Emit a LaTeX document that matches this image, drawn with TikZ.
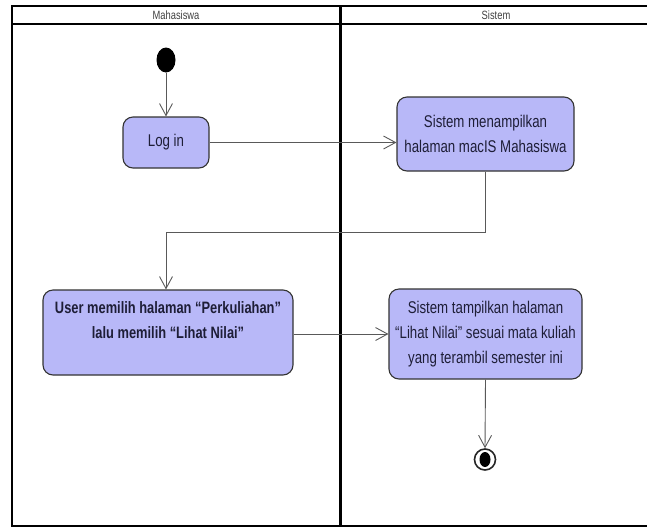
\documentclass[tikz,border=0pt]{standalone}
\usepackage{fontspec}
\setmainfont[FakeStretch=0.78]{Liberation Sans}
\usetikzlibrary{arrows.meta,shapes.geometric}
\definecolor{actfill}{RGB}{184,184,248}
\definecolor{acttext}{RGB}{30,30,55}

\begin{document}
\begin{tikzpicture}[x=1pt,y=-1pt,
		act/.style={draw=black!80, fill=actfill, rounded corners=10pt, line width=1.1pt, align=center, inner sep=0pt, text=acttext, font=\fontsize{17}{25}\selectfont},
		flow/.style={draw=black!65, line width=0.9pt, -{Straight Barb[length=12pt,width=13pt]}},
		lane/.style={line width=2.2pt}]
			%%%%% START %%%%%
			\useasboundingbox (0,0) rectangle (647,531);
			
			\draw[line width=1.3pt] (12,6) -- (647,6);
			\draw[lane] (12,5) -- (12,527);
			\draw[line width=2.8pt] (11,24) -- (647,24);
			\draw[lane] (340.5,5) -- (340.5,527);
			\draw[lane] (11,526) -- (647,526);
			
			\node[text=black!75, font=\fontsize{12}{14}\selectfont] (lanemhs) at (176,15) {Mahasiswa};
			\node[text=black!75, font=\fontsize{12}{14}\selectfont] (lanesis) at (496,15) {Sistem};
			
			\node[ellipse, fill=black, inner sep=0pt, minimum width=19pt, minimum height=25pt] (start) at (166,60) {};
			
			\node[act, minimum width=86pt, minimum height=51pt] (login) at (166,142.5) {Log in};
			\node[act, minimum width=177pt, minimum height=74pt] (halaman) at (485.5,134) {Sistem menampilkan\\halaman macIS Mahasiswa};
			\node[act, minimum width=250pt, minimum height=85pt, font=\fontsize{16.5}{25}\selectfont\bfseries] (pilih) at (168,332.5) {User memilih halaman “Perkuliahan”\\lalu memilih “Lihat Nilai”\\\mbox{}};
			\node[act, minimum width=193pt, minimum height=90pt] (nilai) at (485.5,334) {Sistem tampilkan halaman\\“Lihat Nilai” sesuai mata kuliah\\yang terambil semester ini};
			
			\node[circle, draw=black!85, line width=1.6pt, inner sep=0pt, minimum size=21pt] (final) at (485,459.5) {};
			\node[ellipse, fill=black, inner sep=0pt, minimum width=11pt, minimum height=15pt] (finaldot) at (final.center) {};
			
			\coordinate (turn) at (485.5,232);
			
			\draw[flow] (start) -- (login);
			\draw[flow] (login.east) -- (login.east -| halaman.west);
			\draw[flow] (halaman.south) -- (turn) -| (pilih.north -| start);
			\draw[flow] (pilih.east |- nilai.west) -- (nilai.west);
			\draw[flow] (nilai.south) -- (final.north);
			
			%%%%% END %%%%%
		\end{tikzpicture}
\end{document}
